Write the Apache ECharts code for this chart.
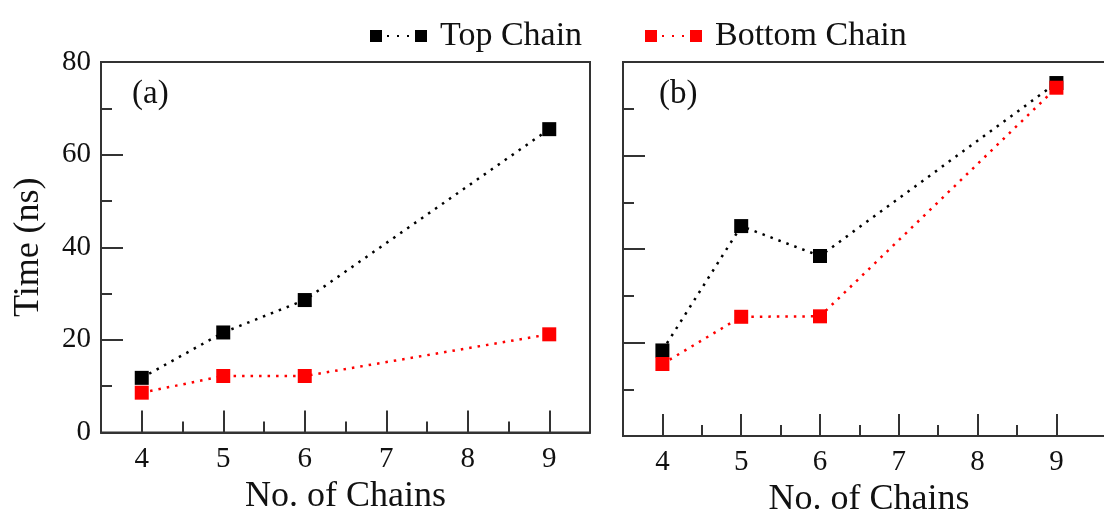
<!DOCTYPE html>
<html>
<head>
<meta charset="utf-8">
<script src="https://cdn.jsdelivr.net/npm/echarts@6/dist/echarts.min.js"></script>
<style>
  html, body { margin: 0; padding: 0; background: #fff; }
  #chart { width: 1104px; height: 511px; }
</style>
</head>
<body>
<div id="chart"></div>
<script>
// Number of chains on the x axis
const chains = [4, 5, 6, 9];

// Panel (a): time in ns
const topChainA = [11.8, 21.6, 28.6, 65.5];
const bottomChainA = [8.6, 12.2, 12.2, 21.2];

// Panel (b): time in ns
const topChainB = [18.3, 44.9, 38.5, 75.5];
const bottomChainB = [15.4, 25.5, 25.6, 74.5];

// Tick values
const xMajorTicks = [4, 5, 6, 7, 8, 9];
const xMinorTicks = [4.5, 5.5, 6.5, 7.5, 8.5];
const yTickLabels = ['0', '20', '40', '60', '80'];

const seriesNames = ['Top Chain', 'Bottom Chain'];
const panelLabels = ['(a)', '(b)'];
const xTitle = 'No. of Chains';
const yTitle = 'Time (ns)';

const FONT = 'Liberation Serif';
const INK = '#111';
const FRAME = '#333';
const COLORS = ['#000000', '#ff0000'];

const pairs = (xs, ys) => xs.map((x, i) => [x, ys[i]]);

// square ... dots ... square legend glyph
const legendIcon = 'path://M0,0H12V12H0Z M17,5H19V7H17Z M27,5H29V7H27Z M37,5H39V7H37Z M45,0H57V12H45Z';

const chart = echarts.init(document.getElementById('chart'), null, { renderer: 'canvas' });

const grids = [
  { left: 101, top: 62, width: 489, height: 370.5 },
  { left: 623, top: 62, width: 492, height: 374 }
];
const xMax = [9.5, 3.5 + 492 / 78.8];

function majorX(gi) {
  return {
    type: 'value', gridIndex: gi, position: 'bottom', min: 3.5, max: xMax[gi], interval: 0.5,
    name: xTitle, nameLocation: 'middle', nameGap: 42,
    nameTextStyle: { fontFamily: FONT, fontSize: 36, color: INK },
    axisLine: { show: true, onZero: false, lineStyle: { color: FRAME, width: 2 } },
    axisTick: { show: true, inside: true, length: 22, customValues: xMajorTicks,
                lineStyle: { color: FRAME, width: 2 } },
    axisLabel: { show: true, customValues: xMajorTicks, margin: 12,
                 fontFamily: FONT, fontSize: 29, color: INK },
    splitLine: { show: false }
  };
}
function minorX(gi) {
  return {
    type: 'value', gridIndex: gi, position: 'bottom', offset: 0,
    min: 3.5, max: xMax[gi], interval: 0.5,
    axisLine: { show: false, onZero: false },
    axisTick: { show: true, inside: true, length: 11, customValues: xMinorTicks,
                lineStyle: { color: FRAME, width: 2 } },
    axisLabel: { show: false },
    splitLine: { show: false }
  };
}
function yAx(gi, showLabels) {
  return {
    type: 'value', gridIndex: gi, position: 'left', min: 0, max: 80, interval: 20,
    name: showLabels ? yTitle : '', nameLocation: 'middle', nameGap: 54, nameRotate: 90,
    nameTextStyle: { fontFamily: FONT, fontSize: 36, color: INK },
    axisLine: { show: true, onZero: false, lineStyle: { color: FRAME, width: 2 } },
    axisTick: { show: true, inside: true, length: 22, lineStyle: { color: FRAME, width: 2 } },
    minorTick: { show: true, splitNumber: 2, length: 11, lineStyle: { color: FRAME, width: 2 } },
    axisLabel: { show: showLabels, margin: 10, fontFamily: FONT, fontSize: 29, color: INK,
                 formatter: v => yTickLabels[Math.round(v / 20)] },
    splitLine: { show: false },
    minorSplitLine: { show: false }
  };
}

function lineSeries(name, xi, yi, data, color) {
  return {
    name, type: 'line', xAxisIndex: xi, yAxisIndex: yi,
    data: pairs(chains, data),
    symbol: 'rect', symbolSize: 14,
    itemStyle: { color },
    lineStyle: { color, width: 2.5, type: [2.5, 6] },
    emphasis: { disabled: true },
    animation: false
  };
}

const option = {
  backgroundColor: '#fff',
  animation: false,
  grid: grids.map(g => Object.assign({ show: true, borderColor: FRAME, borderWidth: 2,
                                       backgroundColor: 'transparent',
                                       containLabel: false, outerBoundsMode: 'none' }, g)),
  legend: [
    { left: 365, top: 13, data: [seriesNames[0]] },
    { left: 640, top: 13, data: [seriesNames[1]] }
  ].map(l => Object.assign({
    icon: legendIcon, itemWidth: 57, itemHeight: 12, selectedMode: false,
    textStyle: { fontFamily: FONT, fontSize: 34, color: INK, lineHeight: 36, padding: [0, 0, 0, 8] }
  }, l)),
  title: [
    { text: panelLabels[0], left: 132, top: 78 },
    { text: panelLabels[1], left: 659, top: 78 }
  ].map(t => Object.assign({
    textStyle: { fontFamily: FONT, fontSize: 33, fontWeight: 'normal', color: INK }, padding: 0
  }, t)),
  xAxis: [majorX(0), minorX(0), majorX(1), minorX(1)],
  yAxis: [yAx(0, true), yAx(1, false)],
  series: [
    lineSeries(seriesNames[0], 0, 0, topChainA, COLORS[0]),
    lineSeries(seriesNames[1], 0, 0, bottomChainA, COLORS[1]),
    lineSeries(seriesNames[0], 2, 1, topChainB, COLORS[0]),
    lineSeries(seriesNames[1], 2, 1, bottomChainB, COLORS[1])
  ]
};
chart.setOption(option);
</script>
</body>
</html>
